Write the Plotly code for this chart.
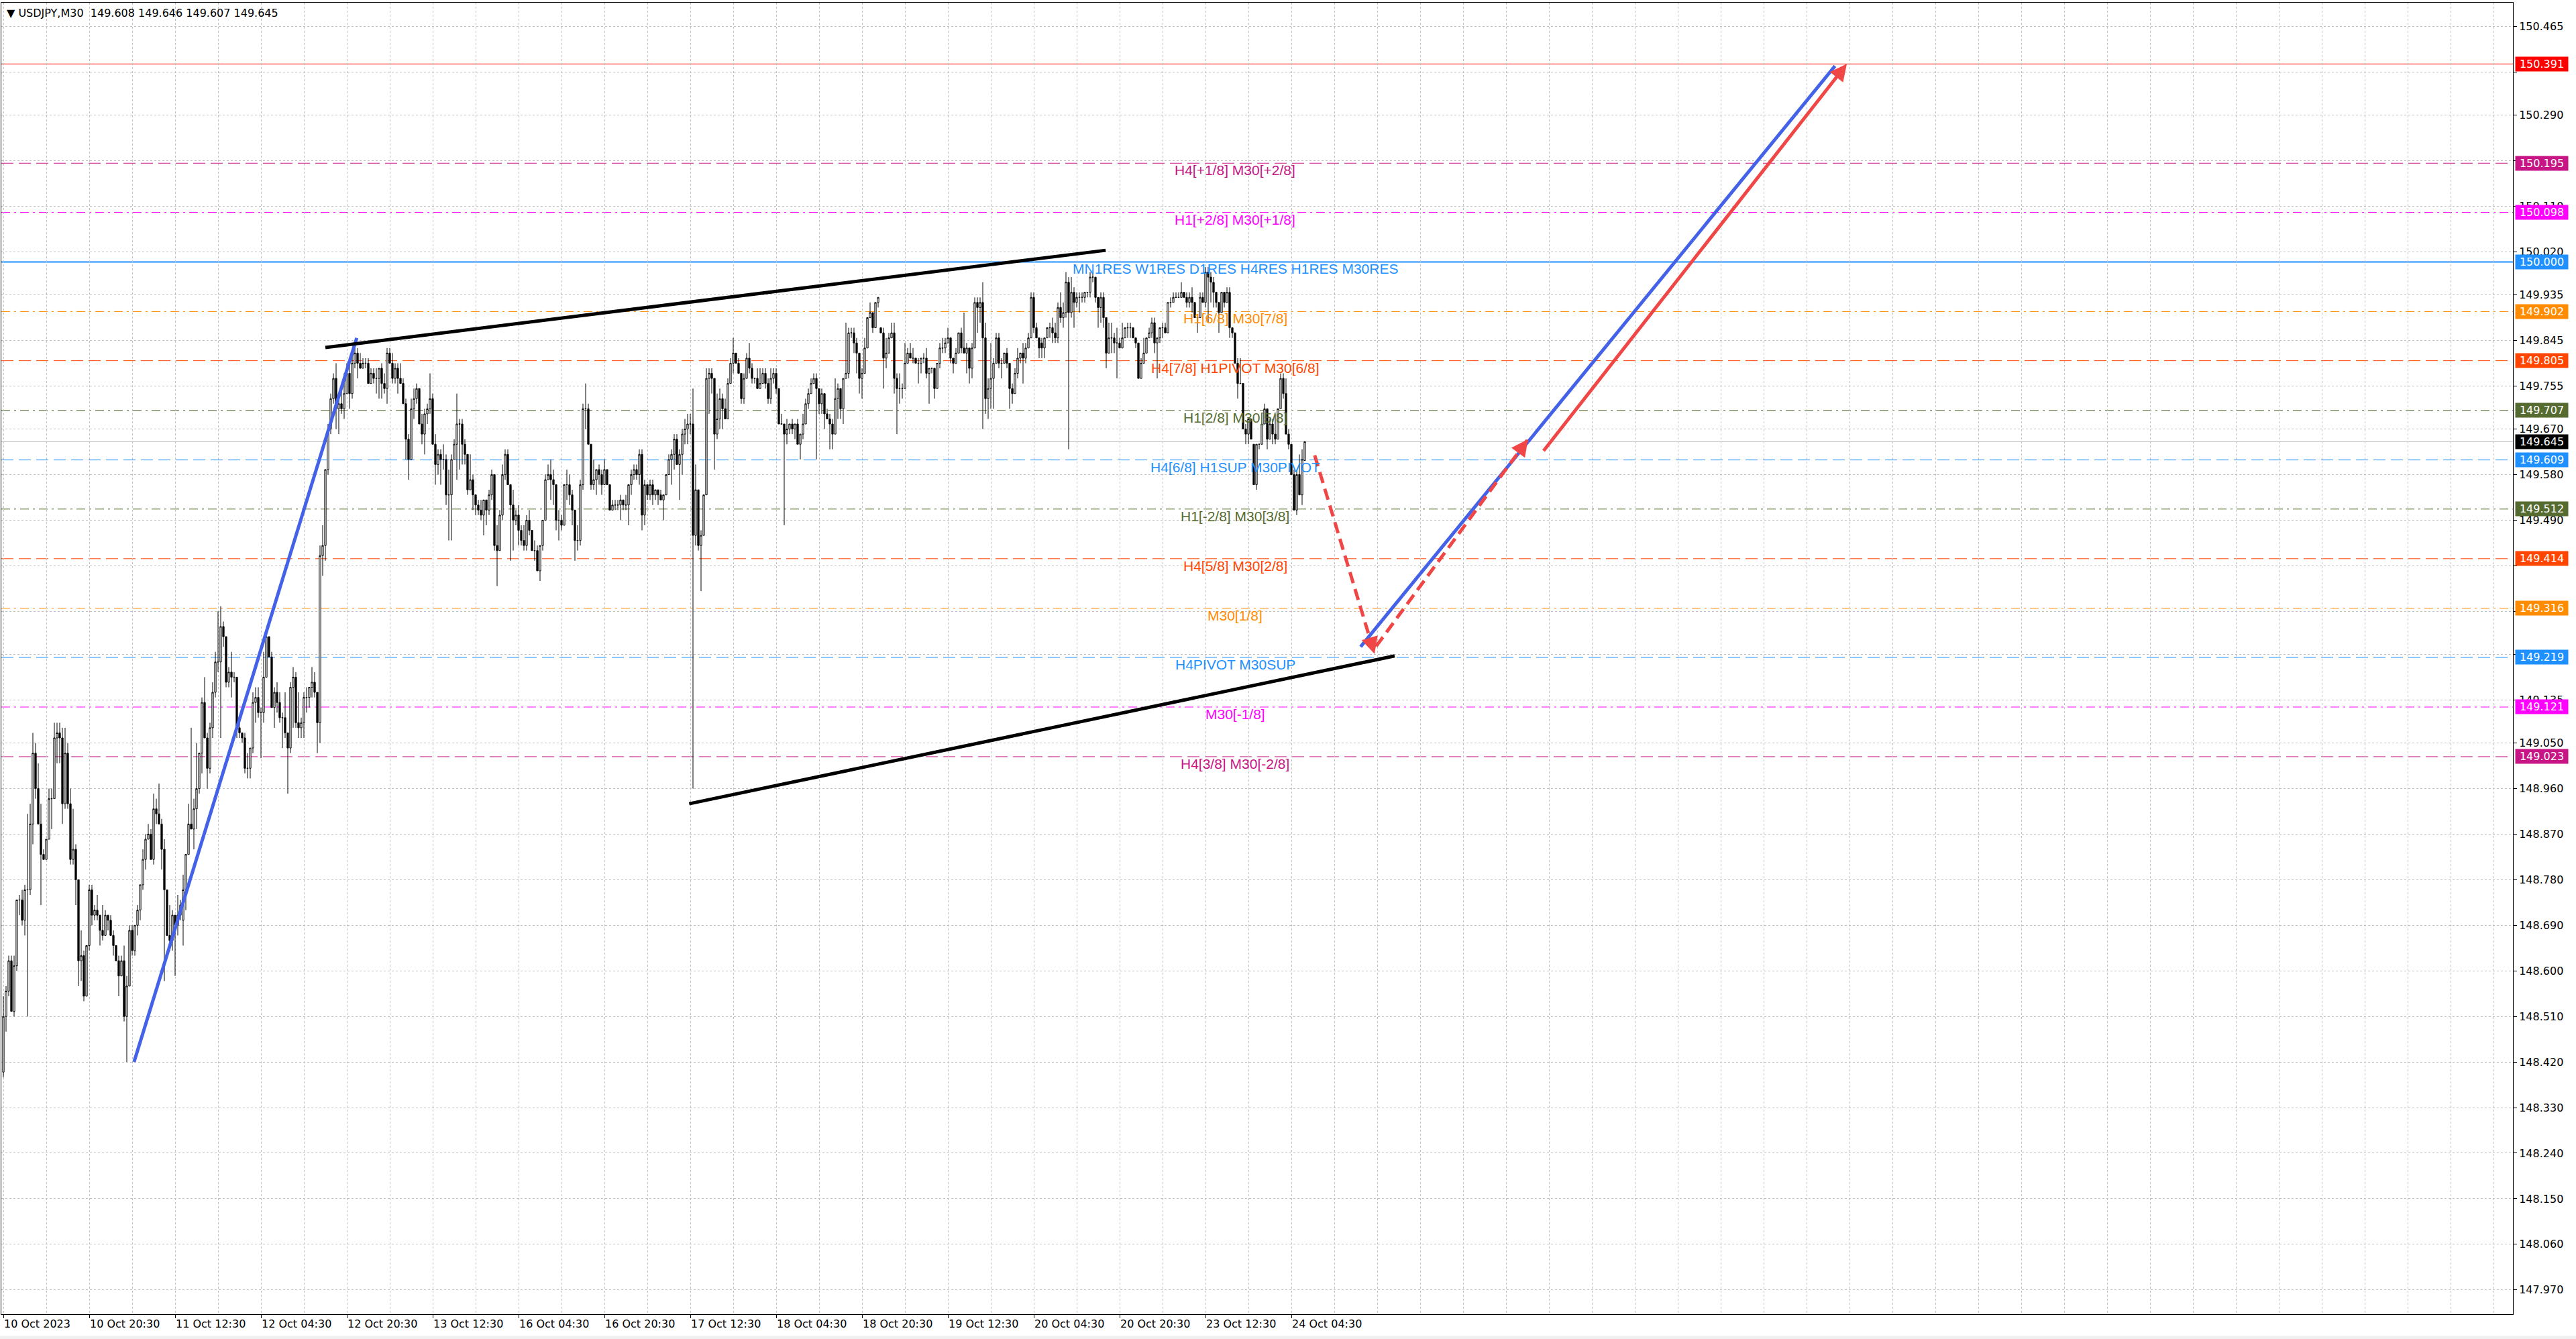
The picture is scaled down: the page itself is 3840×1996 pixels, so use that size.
import plotly.graph_objects as go

# ---------------- data (USDJPY M30, bar index 0 = 10 Oct 04:30) ----------------
bar_open = [
148.40,148.51,148.56,148.62,148.52,148.61,148.74,148.74,148.70,148.76,
148.76,148.89,149.03,148.96,148.89,148.83,148.82,148.86,148.94,148.94,
149.06,149.07,149.06,148.93,149.03,148.93,148.82,148.84,148.78,148.62,
148.63,148.55,148.65,148.76,148.71,148.72,148.71,148.68,148.67,148.71,
148.70,148.67,148.65,148.62,148.59,148.62,148.51,148.57,148.68,148.64,
148.69,148.72,148.77,148.82,148.86,148.87,148.82,148.92,148.91,148.89,
148.84,148.76,148.67,148.66,148.71,148.69,148.71,148.70,148.76,148.83,
148.89,148.88,148.92,148.96,149.03,149.13,149.06,149.00,149.08,149.15,
149.21,149.21,149.28,149.26,149.17,149.19,149.18,149.18,149.08,149.07,
149.06,149.00,149.00,149.04,149.13,149.14,149.11,149.11,149.18,149.26,
149.22,149.12,149.15,149.13,149.10,149.10,149.07,149.04,149.16,149.18,
149.09,149.08,149.09,149.14,149.14,149.16,149.17,149.15,149.09,149.42,
149.44,149.59,149.67,149.73,149.77,149.71,149.72,149.71,149.74,149.78,
149.74,149.80,149.82,149.80,149.79,149.80,149.80,149.76,149.78,149.77,
149.77,149.79,149.76,149.75,149.82,149.80,149.77,149.79,149.77,149.76,
149.72,149.65,149.61,149.71,149.73,149.75,149.68,149.66,149.70,149.71,
149.73,149.64,149.60,149.62,149.61,149.61,149.54,149.54,149.61,149.64,
149.68,149.68,149.64,149.62,149.55,149.57,149.54,149.52,149.51,149.50,
149.53,149.51,149.54,149.58,149.44,149.43,149.50,149.58,149.62,149.56,
149.52,149.49,149.50,149.47,149.45,149.44,149.49,149.47,149.43,149.43,
149.39,149.44,149.49,149.57,149.58,149.57,149.56,149.49,149.49,149.48,
149.56,149.56,149.54,149.51,149.45,149.45,149.56,149.71,149.71,149.64,
149.56,149.57,149.59,149.58,149.56,149.59,149.56,149.51,149.52,149.52,
149.52,149.53,149.52,149.52,149.56,149.58,149.59,149.58,149.62,149.50,
149.56,149.54,149.56,149.54,149.55,149.54,149.53,149.54,149.58,149.61,
149.62,149.65,149.60,149.62,149.66,149.67,149.68,149.68,149.46,149.55,
149.44,149.46,149.54,149.77,149.78,149.77,149.66,149.69,149.73,149.71,
149.69,149.76,149.80,149.82,149.80,149.78,149.73,149.77,149.81,149.79,
149.77,149.77,149.75,149.76,149.78,149.76,149.73,149.77,149.78,149.75,
149.68,149.68,149.66,149.67,149.68,149.67,149.68,149.64,149.66,149.68,
149.72,149.74,149.76,149.77,149.75,149.72,149.74,149.70,149.69,149.68,
149.66,149.73,149.75,149.71,149.77,149.78,149.86,149.86,149.84,149.82,
149.77,149.78,149.83,149.89,149.90,149.87,149.92,149.87,149.86,149.81,
149.82,149.85,149.86,149.77,149.75,149.75,149.75,149.80,149.82,149.81,
149.81,149.80,149.80,149.81,149.81,149.78,149.79,149.79,149.75,149.80,
149.83,149.83,149.84,149.85,149.81,149.80,149.82,149.86,149.83,149.82,
149.83,149.79,149.83,149.92,149.91,149.92,149.85,149.73,149.75,149.77,
149.80,149.85,149.80,149.80,149.82,149.80,149.75,149.74,149.78,149.81,
149.82,149.81,149.83,149.85,149.93,149.87,149.85,149.84,149.83,149.85,
149.87,149.87,149.86,149.85,149.91,149.89,149.90,149.96,149.90,149.94,
149.92,149.93,149.93,149.93,149.94,149.94,149.97,149.97,149.93,149.91,
149.93,149.89,149.82,149.85,149.85,149.84,149.84,149.83,149.85,149.87,
149.87,149.87,149.85,149.84,149.77,149.80,149.82,149.85,149.86,149.88,
149.84,149.85,149.87,149.87,149.86,149.92,149.92,149.93,149.93,149.93,
149.94,149.93,149.92,149.93,149.92,149.89,149.89,149.93,149.92,149.98,
149.97,149.96,149.94,149.92,149.90,149.94,149.92,149.94,149.87,149.86,
149.80,149.76,149.76,149.67,149.66,149.69,149.64,149.56,149.64,149.64,
149.68,149.71,149.65,149.68,149.66,149.65,149.71,149.77,149.74,149.66,
149.64,149.58,149.51,149.58,149.54,149.608]

bar_high = [
148.55,148.57,148.63,148.63,148.63,148.74,148.75,148.76,148.77,148.91,
148.93,149.07,149.05,149.01,148.93,148.84,148.86,148.96,148.96,149.09,
149.09,149.09,149.08,149.08,149.05,148.96,148.92,148.85,148.78,148.68,
148.64,148.65,148.77,148.77,148.73,148.75,148.71,148.73,148.72,148.71,
148.71,148.68,148.65,148.63,148.63,148.65,148.59,148.69,148.69,148.69,
148.73,148.77,148.84,148.87,148.89,148.88,148.95,148.94,148.97,148.90,
148.86,148.76,148.73,148.72,148.71,148.75,148.74,148.79,148.83,148.93,
149.08,148.94,149.05,149.03,149.14,149.18,149.07,149.09,149.17,149.23,
149.31,149.32,149.29,149.26,149.20,149.23,149.19,149.18,149.10,149.07,
149.07,149.03,149.04,149.15,149.16,149.16,149.12,149.23,149.26,149.26,
149.23,149.16,149.17,149.15,149.11,149.15,149.07,149.17,149.20,149.19,
149.15,149.10,149.15,149.16,149.16,149.20,149.19,149.15,149.44,149.48,
149.59,149.68,149.74,149.78,149.80,149.74,149.76,149.78,149.80,149.81,
149.82,149.83,149.83,149.82,149.81,149.81,149.81,149.79,149.79,149.79,
149.79,149.80,149.78,149.83,149.83,149.82,149.80,149.80,149.80,149.77,
149.73,149.66,149.73,149.75,149.76,149.75,149.70,149.71,149.72,149.78,
149.74,149.66,149.63,149.63,149.64,149.62,149.59,149.62,149.65,149.74,
149.69,149.69,149.65,149.62,149.62,149.58,149.54,149.53,149.53,149.53,
149.53,149.55,149.59,149.58,149.48,149.51,149.60,149.63,149.63,149.56,
149.55,149.51,149.52,149.48,149.48,149.50,149.51,149.47,149.45,149.44,
149.44,149.49,149.58,149.60,149.61,149.59,149.56,149.51,149.50,149.56,
149.59,149.58,149.55,149.51,149.48,149.57,149.72,149.76,149.72,149.64,
149.61,149.59,149.60,149.59,149.61,149.59,149.56,149.53,149.53,149.53,
149.54,149.53,149.54,149.56,149.59,149.60,149.60,149.63,149.63,149.57,
149.56,149.57,149.57,149.55,149.55,149.55,149.54,149.58,149.62,149.63,
149.66,149.66,149.63,149.67,149.69,149.70,149.70,149.75,149.60,149.55,
149.47,149.54,149.79,149.79,149.79,149.77,149.74,149.75,149.74,149.73,
149.77,149.81,149.85,149.82,149.81,149.78,149.78,149.82,149.84,149.80,
149.77,149.79,149.79,149.79,149.79,149.77,149.79,149.79,149.79,149.75,
149.70,149.68,149.69,149.68,149.69,149.68,149.69,149.66,149.70,149.73,
149.75,149.77,149.78,149.78,149.75,149.75,149.74,149.71,149.70,149.69,
149.77,149.76,149.75,149.77,149.88,149.87,149.87,149.87,149.85,149.82,
149.79,149.85,149.89,149.92,149.90,149.92,149.93,149.87,149.87,149.85,
149.86,149.88,149.88,149.78,149.78,149.76,149.84,149.83,149.84,149.83,
149.81,149.81,149.81,149.82,149.83,149.79,149.79,149.79,149.80,149.84,
149.85,149.85,149.87,149.85,149.81,149.83,149.86,149.87,149.90,149.84,
149.83,149.84,149.93,149.93,149.93,149.96,149.88,149.77,149.84,149.81,
149.86,149.86,149.81,149.82,149.83,149.80,149.76,149.79,149.83,149.82,
149.84,149.84,149.86,149.94,149.94,149.88,149.85,149.85,149.85,149.87,
149.88,149.89,149.88,149.92,149.94,149.92,149.98,149.97,149.97,149.95,
149.94,149.94,149.94,149.94,149.94,149.98,149.98,149.97,149.93,149.94,
149.94,149.89,149.88,149.88,149.86,149.87,149.85,149.88,149.87,149.88,
149.88,149.87,149.85,149.84,149.81,149.85,149.85,149.87,149.89,149.89,
149.85,149.87,149.88,149.88,149.92,149.93,149.94,149.94,149.94,149.96,
149.94,149.94,149.94,149.95,149.92,149.89,149.94,149.94,149.99,149.99,
149.98,149.97,149.94,149.92,149.94,149.94,149.95,149.95,149.87,149.86,
149.81,149.81,149.76,149.68,149.69,149.69,149.64,149.64,149.64,149.68,
149.72,149.71,149.69,149.69,149.70,149.71,149.78,149.78,149.77,149.67,
149.64,149.59,149.59,149.62,149.63,149.646]

bar_low = [
148.39,148.48,148.55,148.52,148.51,148.60,148.71,148.69,148.67,148.51,
148.75,148.85,148.94,148.89,148.73,148.82,148.82,148.86,148.88,148.94,
149.01,149.01,148.89,148.92,148.92,148.81,148.81,148.73,148.57,148.58,
148.54,148.55,148.64,148.69,148.70,148.70,148.65,148.66,148.67,148.68,
148.67,148.63,148.62,148.55,148.59,148.50,148.42,148.57,148.63,148.63,
148.67,148.70,148.76,148.80,148.86,148.82,148.81,148.89,148.89,148.80,
148.58,148.67,148.64,148.64,148.59,148.67,148.70,148.65,148.72,148.83,
148.88,148.84,148.88,148.95,148.99,149.06,148.96,148.99,149.06,149.14,
149.19,149.06,149.24,149.16,149.16,149.14,149.17,149.06,149.06,149.05,
148.99,148.98,148.98,149.03,149.09,149.10,149.02,149.09,149.18,149.22,
149.12,149.08,149.11,149.09,149.04,149.06,148.95,149.03,149.08,149.08,
149.06,149.06,149.06,149.11,149.12,149.14,149.14,149.03,149.05,149.38,
149.41,149.58,149.66,149.72,149.67,149.66,149.70,149.69,149.74,149.71,
149.73,149.79,149.77,149.79,149.79,149.79,149.76,149.76,149.76,149.74,
149.73,149.73,149.74,149.72,149.80,149.76,149.76,149.74,149.76,149.72,
149.61,149.57,149.61,149.69,149.72,149.68,149.64,149.62,149.68,149.70,
149.64,149.56,149.58,149.56,149.59,149.52,149.45,149.45,149.61,149.57,
149.59,149.60,149.60,149.54,149.55,149.51,149.50,149.50,149.49,149.46,
149.48,149.50,149.53,149.43,149.36,149.43,149.49,149.57,149.56,149.41,
149.43,149.48,149.44,149.44,149.43,149.43,149.46,149.43,149.41,149.39,
149.37,149.43,149.49,149.57,149.53,149.52,149.47,149.45,149.47,149.48,
149.53,149.52,149.48,149.41,149.43,149.44,149.55,149.67,149.64,149.55,
149.55,149.54,149.56,149.54,149.56,149.56,149.51,149.51,149.51,149.51,
149.49,149.51,149.51,149.48,149.54,149.57,149.57,149.56,149.47,149.48,
149.53,149.53,149.52,149.53,149.52,149.53,149.49,149.54,149.58,149.56,
149.59,149.60,149.53,149.58,149.64,149.64,149.66,148.96,149.44,149.43,
149.35,149.46,149.54,149.70,149.74,149.59,149.65,149.67,149.67,149.69,
149.69,149.76,149.78,149.80,149.78,149.72,149.72,149.77,149.78,149.76,
149.76,149.75,149.75,149.76,149.75,149.72,149.72,149.76,149.74,149.68,
149.68,149.48,149.64,149.66,149.66,149.65,149.64,149.61,149.65,149.68,
149.71,149.74,149.76,149.61,149.70,149.70,149.67,149.69,149.63,149.63,
149.66,149.69,149.69,149.68,149.77,149.77,149.85,149.82,149.78,149.74,
149.73,149.78,149.83,149.89,149.86,149.87,149.91,149.86,149.75,149.79,
149.82,149.85,149.74,149.66,149.72,149.73,149.75,149.80,149.81,149.80,
149.80,149.76,149.78,149.80,149.77,149.72,149.78,149.73,149.75,149.79,
149.82,149.82,149.84,149.80,149.78,149.80,149.82,149.82,149.82,149.78,
149.76,149.77,149.83,149.86,149.88,149.67,149.70,149.69,149.71,149.71,
149.80,149.79,149.77,149.80,149.79,149.71,149.72,149.74,149.77,149.80,
149.76,149.80,149.83,149.85,149.86,149.85,149.81,149.81,149.81,149.85,
149.85,149.84,149.84,149.84,149.88,149.87,149.89,149.63,149.89,149.87,
149.91,149.90,149.92,149.92,149.93,149.93,149.96,149.92,149.87,149.88,
149.87,149.79,149.82,149.82,149.82,149.77,149.83,149.83,149.85,149.85,
149.85,149.85,149.83,149.77,149.77,149.80,149.82,149.85,149.85,149.82,
149.77,149.84,149.85,149.86,149.86,149.91,149.92,149.93,149.93,149.93,
149.93,149.91,149.91,149.90,149.89,149.86,149.89,149.92,149.91,149.88,
149.92,149.91,149.91,149.86,149.90,149.91,149.92,149.85,149.85,149.80,
149.73,149.76,149.67,149.64,149.64,149.65,149.56,149.55,149.63,149.64,
149.68,149.63,149.65,149.64,149.64,149.65,149.71,149.73,149.66,149.63,
149.58,149.51,149.50,149.54,149.52,149.607]

bar_close = [
148.51,148.56,148.62,148.52,148.61,148.74,148.74,148.70,148.76,148.76,
148.89,149.03,148.96,148.89,148.83,148.82,148.86,148.94,148.94,149.06,
149.07,149.06,148.93,149.03,148.93,148.82,148.84,148.78,148.62,148.63,
148.55,148.65,148.76,148.71,148.72,148.71,148.68,148.67,148.71,148.70,
148.67,148.65,148.62,148.59,148.62,148.51,148.57,148.68,148.64,148.69,
148.72,148.77,148.82,148.86,148.87,148.82,148.92,148.91,148.89,148.84,
148.76,148.67,148.66,148.71,148.69,148.71,148.73,148.76,148.83,148.89,
148.88,148.92,148.96,149.03,149.13,149.06,149.00,149.08,149.15,149.21,
149.21,149.28,149.26,149.17,149.19,149.18,149.18,149.08,149.07,149.06,
149.00,149.00,149.04,149.13,149.14,149.11,149.11,149.18,149.26,149.22,
149.12,149.15,149.13,149.10,149.10,149.07,149.04,149.16,149.18,149.09,
149.08,149.09,149.14,149.14,149.16,149.17,149.15,149.09,149.42,149.44,
149.59,149.67,149.73,149.77,149.71,149.72,149.71,149.74,149.78,149.74,
149.80,149.82,149.80,149.79,149.80,149.80,149.76,149.78,149.77,149.77,
149.79,149.76,149.75,149.82,149.80,149.77,149.79,149.77,149.76,149.72,
149.65,149.61,149.71,149.73,149.75,149.68,149.66,149.70,149.71,149.73,
149.64,149.60,149.62,149.61,149.61,149.54,149.54,149.61,149.64,149.68,
149.68,149.64,149.62,149.55,149.57,149.54,149.52,149.51,149.50,149.53,
149.51,149.54,149.58,149.44,149.43,149.50,149.58,149.62,149.56,149.52,
149.49,149.50,149.47,149.45,149.44,149.49,149.47,149.43,149.43,149.39,
149.44,149.49,149.57,149.58,149.57,149.56,149.49,149.49,149.48,149.56,
149.56,149.54,149.51,149.45,149.45,149.56,149.71,149.71,149.64,149.56,
149.57,149.59,149.58,149.56,149.59,149.56,149.51,149.52,149.52,149.52,
149.53,149.52,149.52,149.56,149.58,149.59,149.58,149.62,149.50,149.56,
149.54,149.56,149.54,149.55,149.54,149.53,149.54,149.58,149.61,149.62,
149.65,149.60,149.62,149.66,149.67,149.68,149.68,149.46,149.55,149.44,
149.46,149.54,149.77,149.78,149.77,149.66,149.69,149.73,149.71,149.69,
149.76,149.80,149.82,149.80,149.78,149.73,149.77,149.81,149.79,149.77,
149.77,149.75,149.76,149.78,149.76,149.73,149.77,149.78,149.75,149.68,
149.68,149.66,149.67,149.68,149.67,149.68,149.64,149.66,149.68,149.72,
149.74,149.76,149.77,149.75,149.72,149.74,149.70,149.69,149.68,149.66,
149.73,149.75,149.71,149.77,149.78,149.86,149.86,149.84,149.82,149.77,
149.78,149.83,149.89,149.90,149.87,149.92,149.93,149.86,149.81,149.82,
149.85,149.86,149.77,149.75,149.75,149.75,149.80,149.82,149.81,149.81,
149.80,149.80,149.81,149.81,149.78,149.79,149.79,149.75,149.80,149.83,
149.83,149.84,149.85,149.81,149.80,149.82,149.86,149.83,149.82,149.83,
149.79,149.83,149.92,149.91,149.92,149.85,149.73,149.75,149.77,149.80,
149.85,149.80,149.80,149.82,149.80,149.75,149.74,149.78,149.81,149.82,
149.81,149.83,149.85,149.93,149.87,149.85,149.83,149.83,149.85,149.87,
149.87,149.86,149.85,149.91,149.89,149.90,149.96,149.90,149.94,149.92,
149.93,149.93,149.93,149.94,149.94,149.97,149.97,149.93,149.91,149.93,
149.89,149.82,149.85,149.85,149.84,149.84,149.83,149.85,149.87,149.87,
149.87,149.85,149.84,149.77,149.80,149.82,149.85,149.86,149.88,149.84,
149.85,149.87,149.87,149.86,149.92,149.92,149.93,149.93,149.93,149.94,
149.93,149.92,149.93,149.92,149.89,149.89,149.93,149.92,149.98,149.97,
149.96,149.94,149.92,149.90,149.94,149.92,149.94,149.87,149.86,149.80,
149.76,149.76,149.67,149.66,149.69,149.65,149.56,149.64,149.64,149.68,
149.71,149.65,149.68,149.66,149.65,149.71,149.77,149.74,149.66,149.64,
149.58,149.51,149.58,149.54,149.61,149.645]

assert len(bar_open) == len(bar_high) == len(bar_low) == len(bar_close), (
    len(bar_open), len(bar_high), len(bar_low), len(bar_close))

x_tick_labels = ["10 Oct 2023", "10 Oct 20:30", "11 Oct 12:30", "12 Oct 04:30",
                 "12 Oct 20:30", "13 Oct 12:30", "16 Oct 04:30", "16 Oct 20:30",
                 "17 Oct 12:30", "18 Oct 04:30", "18 Oct 20:30", "19 Oct 12:30",
                 "20 Oct 04:30", "20 Oct 20:30", "23 Oct 12:30", "24 Oct 04:30"]
x_tick_bars = [0, 32, 64, 96, 128, 160, 192, 224, 256, 288, 320, 352, 384, 416, 448, 480]

y_tick_values = [150.465, 150.375, 150.290, 150.200, 150.110, 150.020, 149.935, 149.845,
                 149.755, 149.670, 149.580, 149.490, 149.400, 149.310, 149.225, 149.135,
                 149.050, 148.960, 148.870, 148.780, 148.690, 148.600, 148.510, 148.420,
                 148.330, 148.240, 148.150, 148.060, 147.970]
# tick labels that sit entirely under a coloured price box in the reference
y_tick_hidden = [150.375, 150.200, 149.400, 149.310, 149.225]

# Murrey / pivot levels
level_prices = [150.195, 150.098, 150.000, 149.902, 149.805, 149.707, 149.609,
                149.512, 149.414, 149.316, 149.219, 149.121, 149.023]
level_texts = ["H4[+1/8] M30[+2/8]", "H1[+2/8] M30[+1/8]",
               "MN1RES W1RES D1RES H4RES H1RES M30RES", "H1[6/8] M30[7/8]",
               "H4[7/8] H1PIVOT M30[6/8]", "H1[2/8] M30[5/8]", "H4[6/8] H1SUP M30PIVOT",
               "H1[-2/8] M30[3/8]", "H4[5/8] M30[2/8]", "M30[1/8]", "H4PIVOT M30SUP",
               "M30[-1/8]", "H4[3/8] M30[-2/8]"]
level_colors = ["#C71585", "#FF00FF", "#1E90FF", "#FF8C00", "#FF4500", "#556B2F", "#1E90FF",
                "#556B2F", "#FF4500", "#FF8C00", "#1E90FF", "#FF00FF", "#C71585"]
level_styles = ["dash", "dashdot", "solid", "dashdot", "dash", "dashdot", "dash",
                "dashdot", "dash", "dashdot", "dash", "dashdot", "dash"]

target_price = 150.391
last_price = 149.645
header_text = "USDJPY,M30  149.608 149.646 149.607 149.645"

# hand-drawn objects: (bar, price) anchor points
trend_blue = [((48.7, 148.420), (131.7, 149.850)), ((505.8, 149.240), (682.6, 150.387))]
trend_black = [((120.0, 149.831), (410.8, 150.023)), ((255.6, 148.930), (518.5, 149.222))]
red_solid_arrow = ((573.7, 149.625), (687.0, 150.391))
red_dashed_arrows = [((488.7, 149.618), (511.0, 149.226)), ((511.6, 149.241), (568.2, 149.650))]

# ---------------- figure ----------------
BAR_PX = 4.0        # pixels per bar
PRICE_PX = 755.0    # pixels per price unit
RED = "#F04646"
BLUE = "#4462E8"
AX_FONT = "DejaVu Sans"
TXT_FONT = "Liberation Sans, Arial"

dash_map = {"dash": "18px,8px", "dashdot": "13px,6px,3px,6px", "solid": "solid"}

bars = list(range(len(bar_close)))
fig = go.Figure()
fig.add_trace(go.Candlestick(
    x=bars, open=bar_open, high=bar_high, low=bar_low, close=bar_close,
    increasing=dict(line=dict(color="#000000", width=1), fillcolor="#FFFFFF"),
    decreasing=dict(line=dict(color="#000000", width=1), fillcolor="#000000"),
    whiskerwidth=0, showlegend=False, hoverinfo="skip"))

# horizontal level lines
for p, c, s in zip(level_prices, level_colors, level_styles):
    fig.add_shape(type="line", xref="paper", x0=0, x1=1, yref="y", y0=p, y1=p,
                  line=dict(color=c, width=2 if s == "solid" else 1, dash=dash_map[s]),
                  layer="between")
fig.add_shape(type="line", xref="paper", x0=0, x1=1, yref="y", y0=target_price, y1=target_price,
              line=dict(color="#FF0000", width=1), layer="between")
fig.add_shape(type="line", xref="paper", x0=0, x1=1, yref="y", y0=last_price, y1=last_price,
              line=dict(color="#C0C0C0", width=1), layer="between")

# level texts
for p, c, t in zip(level_prices, level_colors, level_texts):
    fig.add_annotation(x=459, y=p, xref="x", yref="y", text=t, showarrow=False,
                       xanchor="center", yanchor="top", yshift=3,
                       font=dict(family=TXT_FONT, size=21, color=c))

# right-hand price boxes
box_prices = [target_price] + level_prices + [last_price]
box_colors = ["#FF0000"] + level_colors + ["#000000"]
for p, c in zip(box_prices, box_colors):
    fig.add_annotation(xref="paper", x=1, xanchor="left", xshift=3, yref="y", y=p,
                       yanchor="middle", text=f"{p:.3f}", showarrow=False, bgcolor=c,
                       width=76, borderpad=1, align="center",
                       font=dict(family=AX_FONT, size=16, color="#FFFFFF"))

# trend lines
for (a, b) in trend_blue:
    fig.add_shape(type="line", xref="x", yref="y", x0=a[0], y0=a[1], x1=b[0], y1=b[1],
                  line=dict(color=BLUE, width=5), layer="above")
for (a, b) in trend_black:
    fig.add_shape(type="line", xref="x", yref="y", x0=a[0], y0=a[1], x1=b[0], y1=b[1],
                  line=dict(color="#000000", width=5), layer="above")

# red solid arrow
(a, b) = red_solid_arrow
fig.add_annotation(x=b[0], y=b[1], ax=a[0], ay=a[1], xref="x", yref="y", axref="x", ayref="y",
                   text="", showarrow=True, arrowhead=2, arrowsize=1, arrowwidth=5,
                   arrowcolor=RED, standoff=0)

# red dashed arrows (dashed shaft + solid head)
for (a, b) in red_dashed_arrows:
    fig.add_shape(type="line", xref="x", yref="y", x0=a[0], y0=a[1], x1=b[0], y1=b[1],
                  line=dict(color=RED, width=5, dash="17px,9px"), layer="above")
    dxp = (b[0] - a[0]) * BAR_PX
    dyp = -(b[1] - a[1]) * PRICE_PX
    ln = (dxp ** 2 + dyp ** 2) ** 0.5
    head = 24.0
    fig.add_annotation(x=b[0], y=b[1], xref="x", yref="y",
                       ax=-dxp / ln * head, ay=-dyp / ln * head,
                       text="", showarrow=True, arrowhead=2, arrowsize=1, arrowwidth=5,
                       arrowcolor=RED, standoff=0)

# header
fig.add_annotation(xref="paper", yref="paper", x=0, y=1, xanchor="left", yanchor="top",
                   xshift=6, yshift=-4, showarrow=False,
                   text="\u25BC " + header_text.replace(" ", "\u00a0"),
                   font=dict(family=AX_FONT, size=16, color="#000000"))

# light grey window strip under the time axis
fig.add_shape(type="rect", xref="paper", yref="paper", x0=-0.01, x1=1.03,
              y0=-0.0165, y1=-0.02, fillcolor="#F0F0F0", line=dict(width=0), layer="below")

grid_bars = list(range(0, 936, 16))

fig.update_layout(
    width=3840, height=1996,
    margin=dict(l=2, r=94, t=4, b=37, autoexpand=False),
    paper_bgcolor="#FFFFFF", plot_bgcolor="#FFFFFF",
    showlegend=False, boxgap=0.2,
    xaxis=dict(range=[-0.75, 935.25], rangeslider=dict(visible=False),
               tickmode="array", tickvals=x_tick_bars, ticktext=x_tick_labels,
               ticks="outside", ticklen=5, tickcolor="#000000", tickwidth=1,
               ticklabelposition="outside right",
               tickfont=dict(family=AX_FONT, size=16, color="#000000"),
               showgrid=False,
               minor=dict(tickvals=grid_bars, showgrid=True, gridcolor="#C0C0C0",
                          griddash="3px,3px", gridwidth=1, ticks=""),
               showline=True, linecolor="#000000", linewidth=1, mirror=True,
               zeroline=False),
    yaxis=dict(side="right", range=[147.922, 150.512],
               tickmode="array", tickvals=y_tick_values,
               ticktext=["" if v in y_tick_hidden else f"{v:.3f}" for v in y_tick_values],
               ticks="outside", ticklen=5, tickcolor="#000000",
               tickfont=dict(family=AX_FONT, size=16, color="#000000"),
               showgrid=True, gridcolor="#C0C0C0", griddash="3px,3px", gridwidth=1,
               showline=True, linecolor="#000000", linewidth=1, mirror=True,
               zeroline=False),
)

fig.write_html("out.html", config={"displayModeBar": False},
               post_script="document.body.style.margin='0px';document.body.style.overflow='hidden';")
